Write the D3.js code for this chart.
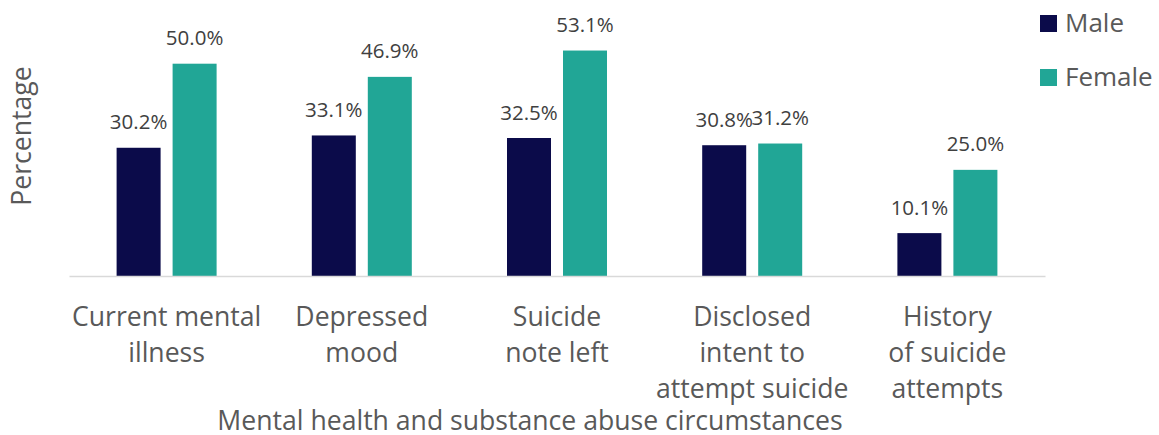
<!DOCTYPE html>
<html>
<head>
<meta charset="utf-8">
<script src="https://cdn.jsdelivr.net/npm/d3@7"></script>
<style>
  body { margin: 0; background: #fff; }
  svg { display: block; font-family: "Open Sans", sans-serif; }
</style>
</head>
<body>
<svg id="chart" width="1159" height="435"></svg>
<script>
const categories = [
  ["Current mental", "illness"],
  ["Depressed", "mood"],
  ["Suicide", "note left"],
  ["Disclosed", "intent to", "attempt suicide"],
  ["History", "of suicide", "attempts"]
];
const seriesNames = ["Male", "Female"];
const maleValues = [30.2, 33.1, 32.5, 30.8, 10.1];
const femaleValues = [50.0, 46.9, 53.1, 31.2, 25.0];
const colors = ["#0b0b4a", "#21a696"];

const svg = d3.select("#chart");
const left = 69, right = 1045, baseY = 276, topY = 63.7;

const x0 = d3.scaleBand().domain(d3.range(categories.length)).range([left, right]).padding(0);
const bw = x0.bandwidth();
const x1 = d3.scaleBand().domain(seriesNames).range([bw / 2 - 50, bw / 2 + 50]).paddingInner(12 / 56);
const y = d3.scaleLinear().domain([0, 50]).range([baseY, topY]);

const data = categories.map((c, i) => ({ i, vals: [maleValues[i], femaleValues[i]] }));

const groups = svg.append("g").selectAll("g").data(data).join("g")
  .attr("transform", d => `translate(${x0(d.i)},0)`);

groups.selectAll("rect").data(d => d.vals.map((v, k) => ({ v, k }))).join("rect")
  .attr("x", d => x1(seriesNames[d.k]))
  .attr("width", x1.bandwidth())
  .attr("y", d => y(d.v))
  .attr("height", d => y(0) - y(d.v))
  .attr("fill", d => colors[d.k]);

groups.selectAll("text.val").data(d => d.vals.map((v, k) => ({ v, k }))).join("text")
  .attr("class", "val")
  .attr("x", d => x1(seriesNames[d.k]) + x1.bandwidth() / 2)
  .attr("y", d => y(d.v) - 18.5)
  .attr("text-anchor", "middle")
  .attr("font-size", 20.5)
  .attr("fill", "#404040")
  .text(d => d.v.toFixed(1) + "%");

// baseline axis
const xAxis = d3.axisBottom(x0).tickSize(0).tickFormat("");
const axisG = svg.append("g").attr("transform", `translate(0,${baseY})`).call(xAxis);
axisG.select(".domain").attr("stroke", "#d9d9d9").attr("stroke-width", 1.5);

// category labels
categories.forEach((lines, i) => {
  const t = svg.append("text")
    .attr("x", x0(i) + bw / 2)
    .attr("y", 326)
    .attr("text-anchor", "middle")
    .attr("font-size", 26.6)
    .attr("fill", "#595959");
  lines.forEach((ln, j) => {
    t.append("tspan").attr("x", x0(i) + bw / 2).attr("dy", j === 0 ? 0 : 36).text(ln);
  });
});

// axis titles
svg.append("text")
  .attr("x", 530)
  .attr("y", 430)
  .attr("text-anchor", "middle")
  .attr("font-size", 26.6)
  .attr("fill", "#595959")
  .text("Mental health and substance abuse circumstances");

svg.append("text")
  .attr("transform", "translate(31,136) rotate(-90)")
  .attr("text-anchor", "middle")
  .attr("font-size", 26.6)
  .attr("fill", "#595959")
  .text("Percentage");

// legend
const legend = svg.append("g").selectAll("g").data(seriesNames).join("g")
  .attr("transform", (d, i) => `translate(1040,${15 + i * 54})`);
legend.append("rect").attr("width", 17).attr("height", 17).attr("fill", (d, i) => colors[i]);
legend.append("text").attr("x", 25).attr("y", 17)
  .attr("font-size", 26).attr("fill", "#595959").text(d => d);
</script>
</body>
</html>
